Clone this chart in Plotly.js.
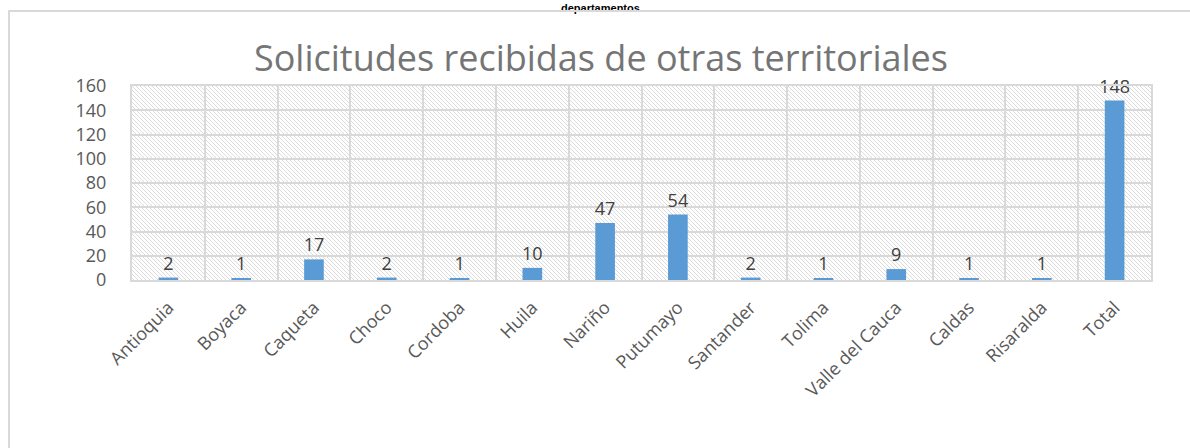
<!DOCTYPE html>
<html>
<head>
<meta charset="utf-8">
<script src="https://cdn.plot.ly/plotly-3.0.1.min.js"></script>
<style>
  body { margin: 0; background: #fff; }
  #frame { position: absolute; left: 8px; top: 10px; width: 1300px; height: 600px;
           border: 2px solid #d9d9d9; pointer-events: none; }
  #data_display { position: absolute; left: 0; top: 0; width: 1190px; height: 448px; }
</style>
</head>
<body>
<div id="data_display"></div>
<div id="frame"></div>
<script>
let departamentos = ['Antioquia', 'Boyaca', 'Caqueta', 'Choco', 'Cordoba', 'Huila', 'Nariño',
    'Putumayo', 'Santander', 'Tolima', 'Valle del Cauca', 'Caldas', 'Risaralda', 'Total'];
let solicitudes = [2, 1, 17, 2, 1, 10, 47, 54, 2, 1, 9, 1, 1, 148];
let y_ticks = [0, 20, 40, 60, 80, 100, 120, 140, 160];

// diagonal hatch for the plot background
let hatch_svg = '<svg xmlns="http://www.w3.org/2000/svg" width="1019" height="194">' +
    '<defs><pattern id="h" width="4" height="4" patternUnits="userSpaceOnUse">' +
    '<path d="M0,0 L4,4 M-1,3 L1,5 M3,-1 L5,1" stroke="#dcdcdc" stroke-width="1"/>' +
    '</pattern></defs><rect width="1019" height="194" fill="url(#h)"/></svg>';

function load_data(){
    var data = [{
        type: 'bar',
        x: departamentos,
        y: solicitudes,
        width: 0.27,
        marker: {color: '#5b9bd5'},
        text: solicitudes.map(String),
        textposition: 'outside',
        constraintext: 'none',
        textfont: {family: 'Open Sans', size: 18, color: '#404040'},
        cliponaxis: false,
        hoverinfo: 'x+y'
    }];

    var layout = {
        width: 1190,
        height: 448,
        margin: {l: 132, r: 39, t: 86, b: 168},
        paper_bgcolor: 'rgba(0,0,0,0)',
        plot_bgcolor: 'rgba(0,0,0,0)',
        showlegend: false,
        title: {
            text: 'Solicitudes recibidas de otras territoriales',
            font: {family: 'Open Sans', size: 36, color: '#757575'},
            x: 0.505, xanchor: 'center',
            y: 0.87, yanchor: 'middle'
        },
        xaxis: {
            type: 'category',
            tickson: 'boundaries',
            ticks: '',
            tickangle: -45,
            ticklabelstandoff: 8,
            tickfont: {family: 'Open Sans', size: 18, color: '#595959'},
            showgrid: true,
            gridcolor: '#d9d9d9',
            gridwidth: 2,
            showline: true,
            linecolor: '#d9d9d9',
            linewidth: 2,
            mirror: true
        },
        yaxis: {
            range: [0, 160],
            tickvals: y_ticks,
            ticks: '',
            ticklabelstandoff: 20,
            tickfont: {family: 'Open Sans', size: 18, color: '#595959'},
            showgrid: true,
            gridcolor: '#d9d9d9',
            gridwidth: 2,
            zeroline: false,
            showline: true,
            linecolor: '#d9d9d9',
            linewidth: 2,
            mirror: true
        },
        images: [{
            source: 'data:image/svg+xml;charset=utf-8,' + encodeURIComponent(hatch_svg),
            xref: 'paper', yref: 'paper',
            x: 0, y: 1, sizex: 1, sizey: 1,
            xanchor: 'left', yanchor: 'top',
            sizing: 'stretch',
            layer: 'below'
        }],
        annotations: [{
            text: '<b>departamentos</b>',
            xref: 'paper', yref: 'paper',
            x: 0.46, y: 1.443,
            xanchor: 'center', yanchor: 'top',
            showarrow: false,
            font: {family: 'Liberation Sans', size: 11, color: '#000000'}
        }]
    };
    Plotly.newPlot('data_display', data, layout, {displayModeBar: false});
}

load_data();
</script>
</body>
</html>
